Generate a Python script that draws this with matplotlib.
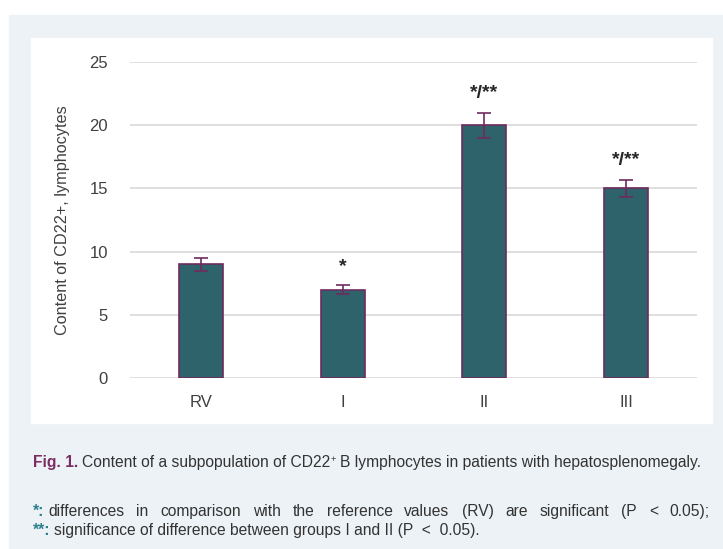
import matplotlib.pyplot as plt
from matplotlib.patches import Rectangle

# data
groups = ['RV', 'I', 'II', 'III']
values = [9, 7, 20, 15]
errors = [0.5, 0.35, 1.0, 0.7]
marks = ['', '*', '*/**', '*/**']

W, H = 723, 549
bar_col = '#2F636B'
edge_col = '#6E2B5E'
txt_col = '#404040'

plt.rcParams['font.family'] = ['Liberation Sans', 'DejaVu Sans']

fig = plt.figure(figsize=(W / 100, H / 100), dpi=100)
fig.patch.set_facecolor('white')

# grey frame and white panel (pixel coords -> figure coords)
def px(x0, y0, x1, y1, c):
    fig.patches.append(Rectangle((x0 / W, 1 - y1 / H), (x1 - x0) / W, (y1 - y0) / H,
                                 transform=fig.transFigure, color=c, zorder=-5))

px(9, 15, 723, 549, '#EDF2F6')
px(31, 38, 712, 423, 'white')

ax = fig.add_axes([130 / W, 1 - 378 / H, (697 - 130) / W, (378 - 62) / H])
ax.set_zorder(3)
ax.patch.set_alpha(0)
x = range(len(groups))
ax.bar(x, values, width=0.31, color=bar_col, edgecolor=edge_col, linewidth=1.2, zorder=3)
ax.errorbar(x, values, yerr=errors, fmt='none', ecolor=edge_col, elinewidth=1.2,
            capsize=5, capthick=1.2, zorder=4)
for i, m in enumerate(marks):
    if m:
        ax.text(i, values[i] + errors[i] + 0.8, m, ha='center', va='bottom',
                fontsize=14, fontweight='bold', color='#262626')

ax.set_xlim(-0.5, 3.5)
ax.set_ylim(0, 25)
ax.set_yticks([0, 5, 10, 15, 20, 25])
ax.set_xticks(list(x))
ax.set_xticklabels(groups)
ax.grid(axis='y', color='#D9D9D9', linewidth=1.2, zorder=0)
for s in ax.spines.values():
    s.set_visible(False)
ax.tick_params(length=0, labelsize=12, colors=txt_col)
ax.tick_params(axis='y', pad=16)
ax.tick_params(axis='x', pad=12)
ax.set_ylabel('Content of CD22+, lymphocytes', fontsize=11.7, color=txt_col, labelpad=14)

# caption, laid out piece by piece in pixels
fig.canvas.draw()
rend = fig.canvas.get_renderer()

def put(xp, yp, s, **kw):
    t = fig.text(xp / W, 1 - yp / H, s, va='baseline', **kw)
    return t, t.get_window_extent(rend).x1

def width(s, **kw):
    t = fig.text(0, 0, s, **kw)
    w = t.get_window_extent(rend).width
    t.remove()
    return w

cap_a = 'Content of a subpopulation of CD22'
cap_b = 'B lymphocytes in patients with hepatosplenomegaly.'
fs = 10 * 672 / (width('Fig. 1. ' + cap_a + '+ ' + cap_b, fontsize=10))
t, xe = put(33, 467, 'Fig. 1.', fontsize=fs, color='#7B2D63', fontweight='bold')
t, xe = put(xe + 4, 467, cap_a, fontsize=fs, color='#333333')
t, xe = put(xe + 0.5, 462, '+', fontsize=fs * 0.6, color='#333333')
put(xe + 4, 467, cap_b, fontsize=fs, color='#333333')

# justified line
t, xe = put(33, 516, '*:', fontsize=fs, color='#2E7F8C', fontweight='bold')
words = 'differences in comparison with the reference values (RV) are significant (P < 0.05);'.split()
ws = [width(w_, fontsize=fs) for w_ in words]
x0, x1 = xe + 4, 710
gap = (x1 - x0 - sum(ws)) / (len(words) - 1)
cx = x0
for w_, wd in zip(words, ws):
    put(cx, 516, w_, fontsize=fs, color='#333333')
    cx += wd + gap

t, xe = put(33, 535, '**:', fontsize=fs, color='#2E7F8C', fontweight='bold')
put(xe + 4, 535, 'significance of difference between groups I and II (P  <  0.05).',
    fontsize=fs, color='#333333')

fig.savefig('out.png', dpi=100)
